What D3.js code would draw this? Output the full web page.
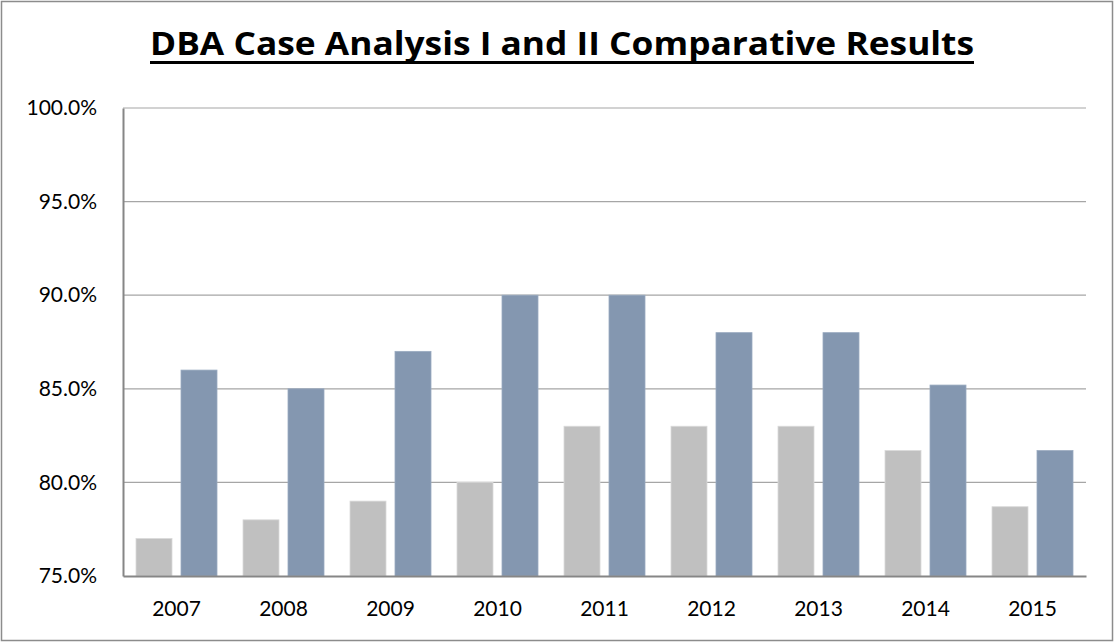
<!DOCTYPE html>
<html>
<head>
<meta charset="utf-8">
<script src="https://cdn.jsdelivr.net/npm/d3@7"></script>
<style>
  body { margin: 0; background: #fff; }
  svg { display: block; font-family: Lato, "Open Sans", sans-serif; }
</style>
</head>
<body>
<svg id="chart" width="1115" height="642"></svg>
<script>
// chart data
var years = ["2007", "2008", "2009", "2010", "2011", "2012", "2013", "2014", "2015"];
var caseOne = [77.0, 78.0, 79.0, 80.0, 83.0, 83.0, 83.0, 81.7, 78.7];
var caseTwo = [86.0, 85.0, 87.0, 90.0, 90.0, 88.0, 88.0, 85.2, 81.7];
var yTicks = [75, 80, 85, 90, 95, 100];

var svg = d3.select("#chart");

// outer frame
svg.append("rect")
  .attr("x", 1.5).attr("y", 1.5)
  .attr("width", 1111).attr("height", 639)
  .attr("fill", "#fff")
  .attr("stroke", "#8c8c8c")
  .attr("stroke-width", 1.5);

// title
var title = svg.append("text")
  .attr("x", 562).attr("y", 55)
  .attr("text-anchor", "middle")
  .attr("font-family", "'Open Sans', Lato, sans-serif")
  .attr("font-size", 32)
  .attr("font-weight", "bold")
  .attr("fill", "#000")
  .attr("textLength", 824)
  .attr("lengthAdjust", "spacingAndGlyphs")
  .text("DBA Case Analysis I and II Comparative Results");

var tb = title.node().getBBox();
svg.append("line")
  .attr("x1", tb.x).attr("x2", tb.x + tb.width)
  .attr("y1", 62.5).attr("y2", 62.5)
  .attr("stroke", "#000").attr("stroke-width", 3);

var plotLeft = 123, plotRight = 1086, plotTop = 108, plotBottom = 576;

var x = d3.scaleBand().domain(years).range([plotLeft, plotRight]);
var x1 = d3.scaleBand().domain(["one", "two"]).range([13, x.bandwidth() - 13]).paddingInner(0.2);
var y = d3.scaleLinear().domain([75, 100]).range([plotBottom, plotTop]);

// gridlines
svg.append("g").selectAll("line")
  .data(yTicks.filter(function(d) { return d > 75; }))
  .enter().append("line")
  .attr("x1", plotLeft).attr("x2", plotRight)
  .attr("y1", function(d) { return y(d); })
  .attr("y2", function(d) { return y(d); })
  .attr("stroke", "#a6a6a6").attr("stroke-width", 1.2);

// bars
var groups = svg.append("g").selectAll("g")
  .data(years)
  .enter().append("g")
  .attr("transform", function(d) { return "translate(" + x(d) + ",0)"; });

groups.append("rect")
  .attr("x", x1("one"))
  .attr("width", x1.bandwidth())
  .attr("y", function(d, i) { return y(caseOne[i]); })
  .attr("height", function(d, i) { return plotBottom - y(caseOne[i]); })
  .attr("fill", "#c0c0c0")
  .attr("stroke", "#d9d9d9").attr("stroke-width", 0.8);

groups.append("rect")
  .attr("x", x1("two"))
  .attr("width", x1.bandwidth())
  .attr("y", function(d, i) { return y(caseTwo[i]); })
  .attr("height", function(d, i) { return plotBottom - y(caseTwo[i]); })
  .attr("fill", "#8497b0")
  .attr("stroke", "#9aabc0").attr("stroke-width", 0.8);

// y axis
var yAxis = svg.append("g")
  .attr("transform", "translate(" + plotLeft + ",0)")
  .call(d3.axisLeft(y).tickValues(yTicks).tickSize(0).tickPadding(26)
    .tickFormat(function(d) { return d.toFixed(1) + "%"; }));
yAxis.select(".domain").attr("stroke", "#868686").attr("stroke-width", 2);
yAxis.selectAll("text").attr("font-size", 21).attr("fill", "#000")
  .attr("font-family", "Lato, 'Open Sans', sans-serif");

// x axis
var xAxis = svg.append("g")
  .attr("transform", "translate(0," + plotBottom + ")")
  .call(d3.axisBottom(x).tickSize(0).tickPadding(25));
xAxis.select(".domain").attr("stroke", "#868686").attr("stroke-width", 2);
xAxis.selectAll("text").attr("font-size", 21).attr("fill", "#000")
  .attr("font-family", "Lato, 'Open Sans', sans-serif");
</script>
</body>
</html>
